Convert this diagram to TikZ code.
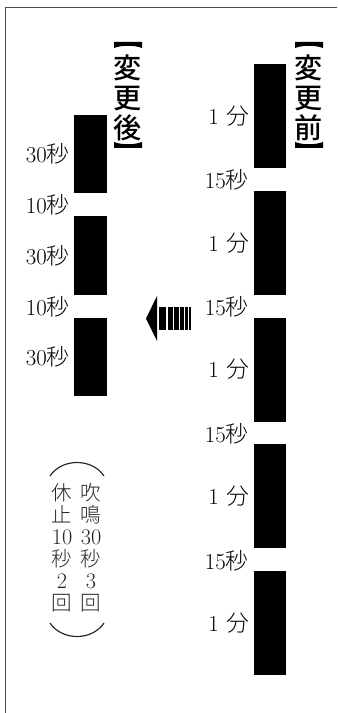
\documentclass[tikz,border=0pt]{standalone}
\usepackage{fontspec}
\IfFontExistsTF{Noto Sans CJK JP Light}
 {\newfontfamily\jp{Noto Sans CJK JP Light}}
 {\newfontfamily\jp{Noto Sans CJK JP}}
\IfFontExistsTF{Noto Sans CJK JP Medium}
 {\newfontfamily\jphead{Noto Sans CJK JP Medium}}
 {\newfontfamily\jphead{Noto Sans CJK JP}}
\usetikzlibrary{positioning}

\tikzset{
  lbl/.style={anchor=east, inner sep=0pt, font=\fontsize{19.5pt}{20pt}\selectfont},
  head/.style={inner sep=0pt, align=center, font=\jphead\fontsize{24pt}{25.6pt}\selectfont},
  note/.style={inner sep=0pt, align=center, text=black!85, font=\jp\fontsize{17.5pt}{18.8pt}\selectfont}
}
\newcommand\notenum[1]{{\rmfamily\fontsize{19pt}{18.8pt}\selectfont #1}}

\begin{document}
\begin{tikzpicture}[x=0.03cm,y=-0.03cm]
\useasboundingbox (0,0) rectangle (337,713);

% frame
\draw[black!70, line width=0.8pt] (5,713) -- (5,7) -- (337,7);

% before the change
\foreach \i in {0,...,4}
{
 \fill (254, 64+126.8*\i) rectangle ++(32, 104);
 \node[lbl] (pre\i) at (250, 116+126.8*\i) {1\hspace{0.35em}{\jp 分}};
}
\foreach \i in {0,...,3}
 \node[lbl] (gap\i) at (249, 180+126.8*\i) {15{\jp 秒}};

% after the change
\foreach \i in {0,1,2}
{
 \fill (74, 115+101.5*\i) rectangle ++(33, 78);
 \node[lbl] (post\i) at (70, 154+101.5*\i) {30{\jp 秒}};
}
\foreach \i in {0,1}
 \node[lbl] (rest\i) at (70, 205+101.5*\i) {10{\jp 秒}};

% headings
\node[head] (before) at (309, 98) {変\\更\\前};
\node[head] (after) at (128, 98) {変\\更\\後};
\foreach \x in {128, 309}
{
 \fill (\x-14,42) -- (\x+14,42) -- (\x+14,48) .. controls (\x+6,45) and (\x-6,45) .. (\x-14,48) -- cycle;
 \fill (\x-14,148) -- (\x+14,148) -- (\x+14,142) .. controls (\x+6,145) and (\x-6,145) .. (\x-14,142) -- cycle;
}

% arrow
\fill (146,318.5) -- (157,296) -- (157,341) -- cycle;
\foreach \a/\b in {159/165.7, 167.7/172.7, 174.3/178.7, 180.3/183.7, 185.3/187.7, 189.3/191}
 \fill (\a,307) rectangle (\b,330);

% note
\node[note] (blow) at (91, 548) {吹\\鳴\\\notenum{30}\\秒\\\notenum{3}\\回};
\node[note] (pause) at (62, 548) {休\\止\\\notenum{10}\\秒\\\notenum{2}\\回};
\draw[black!85, line width=1pt] (50,476) .. controls (62,458) and (92,458) .. (104,476);
\draw[black!85, line width=1pt] (50,623) .. controls (62,641) and (92,641) .. (104,623);
\end{tikzpicture}
\end{document}
